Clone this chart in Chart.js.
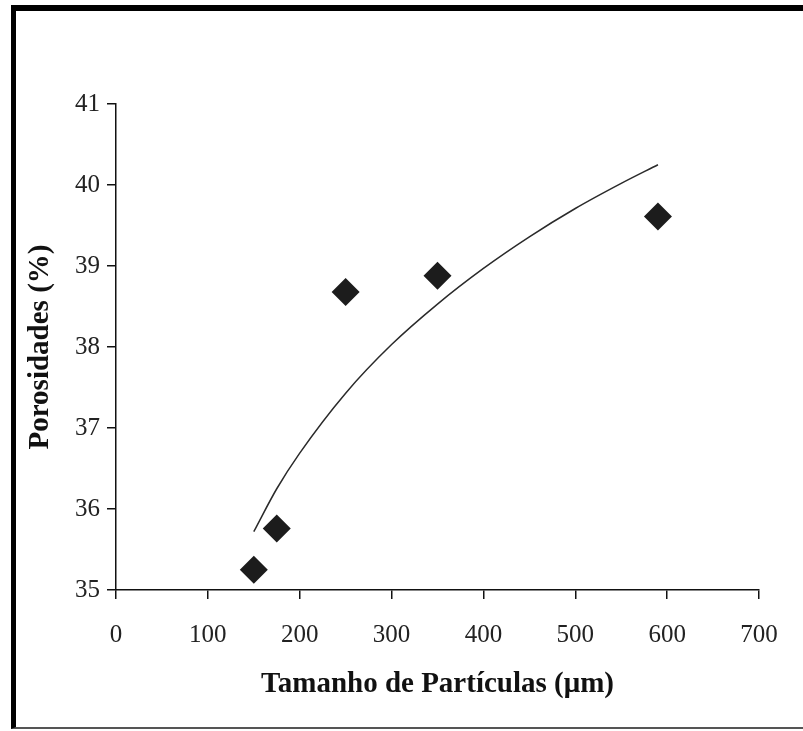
<!DOCTYPE html>
<html>
<head>
<meta charset="utf-8">
<script src="https://cdn.jsdelivr.net/npm/chart.js@4/dist/chart.umd.min.js"></script>
<style>
  html, body { margin: 0; padding: 0; background: #ffffff; }
  #wrap { position: relative; width: 803px; height: 731px; overflow: hidden; background: #fff; }
  #frame { position: absolute; left: 11px; top: 5px; width: 803px; height: 724px;
           border-top: 6px solid #000; border-left: 5px solid #000; border-bottom: 2px solid #555;
           box-sizing: border-box; pointer-events: none; }
  #c { position: absolute; left: 0; top: 0; }
</style>
</head>
<body>
<div id="wrap">
  <div id="frame"></div>
  <canvas id="c" width="803" height="731"></canvas>
</div>
<script>
// Data
const particleSizes = [150, 175, 250, 350, 590];          // µm
const porosities    = [35.25, 35.76, 38.68, 38.88, 39.61]; // %

// Trend curve
const trendSizes = [150, 175, 200, 250, 300, 350, 400, 450, 500, 550, 590];
const trendPoros = [35.72, 36.25, 36.69, 37.43, 38.03, 38.53, 38.97, 39.36, 39.71, 40.02, 40.25];

const xTickValues = [0, 100, 200, 300, 400, 500, 600, 700];
const yTickValues = [35, 36, 37, 38, 39, 40, 41];

const xTitle = 'Tamanho de Partículas (μm)';
const yTitle = 'Porosidades (%)';

const serif = "'Liberation Serif', 'Times New Roman', serif";

const pts = particleSizes.map((x, i) => ({ x: x, y: porosities[i] }));
const trend = trendSizes.map((x, i) => ({ x: x, y: trendPoros[i] }));

new Chart(document.getElementById('c'), {
  type: 'scatter',
  data: {
    datasets: [
      {
        label: 'trend',
        data: trend,
        showLine: true,
        borderColor: '#2a2a2a',
        borderWidth: 1.5,
        pointRadius: 0,
        fill: false,
        cubicInterpolationMode: 'monotone',
        order: 2
      },
      {
        label: 'Porosidade',
        data: pts,
        pointStyle: 'rectRot',
        pointRadius: 14,
        pointBackgroundColor: '#1c1c1c',
        pointBorderColor: '#1c1c1c',
        pointBorderWidth: 0,
        showLine: false,
        order: 1
      }
    ]
  },
  options: {
    responsive: false,
    animation: false,
    devicePixelRatio: 1,
    layout: { padding: { left: 16, top: 104, right: 44, bottom: 28 } },
    plugins: { legend: { display: false }, tooltip: { enabled: false } },
    scales: {
      x: {
        type: 'linear',
        min: xTickValues[0],
        max: xTickValues[xTickValues.length - 1],
        afterBuildTicks: (s) => { s.ticks = xTickValues.map(v => ({ value: v })); },
        afterFit: (s) => { s.height = 731 - 28 - 590; },
        ticks: { color: '#222', padding: 21, font: { family: serif, size: 25 } },
        grid: { display: true, drawOnChartArea: false, drawTicks: true, tickLength: 9, color: '#111', lineWidth: 1.5 },
        border: { display: true, color: '#111', width: 1.5 },
        title: { display: true, text: xTitle, color: '#111', padding: { top: 2, bottom: 1 },
                 font: { family: serif, size: 29, weight: 'bold' } }
      },
      y: {
        type: 'linear',
        min: yTickValues[0],
        max: yTickValues[yTickValues.length - 1],
        afterBuildTicks: (s) => { s.ticks = yTickValues.map(v => ({ value: v })); },
        afterFit: (s) => { s.width = 116 - 16; },
        ticks: { color: '#222', padding: 7, font: { family: serif, size: 25 } },
        grid: { display: true, drawOnChartArea: false, drawTicks: true, tickLength: 9, color: '#111', lineWidth: 1.5 },
        border: { display: true, color: '#111', width: 1.5 },
        title: { display: true, text: yTitle, color: '#111', padding: { top: 7, bottom: 2 },
                 font: { family: serif, size: 29, weight: 'bold' } }
      }
    }
  }
});
</script>
</body>
</html>
